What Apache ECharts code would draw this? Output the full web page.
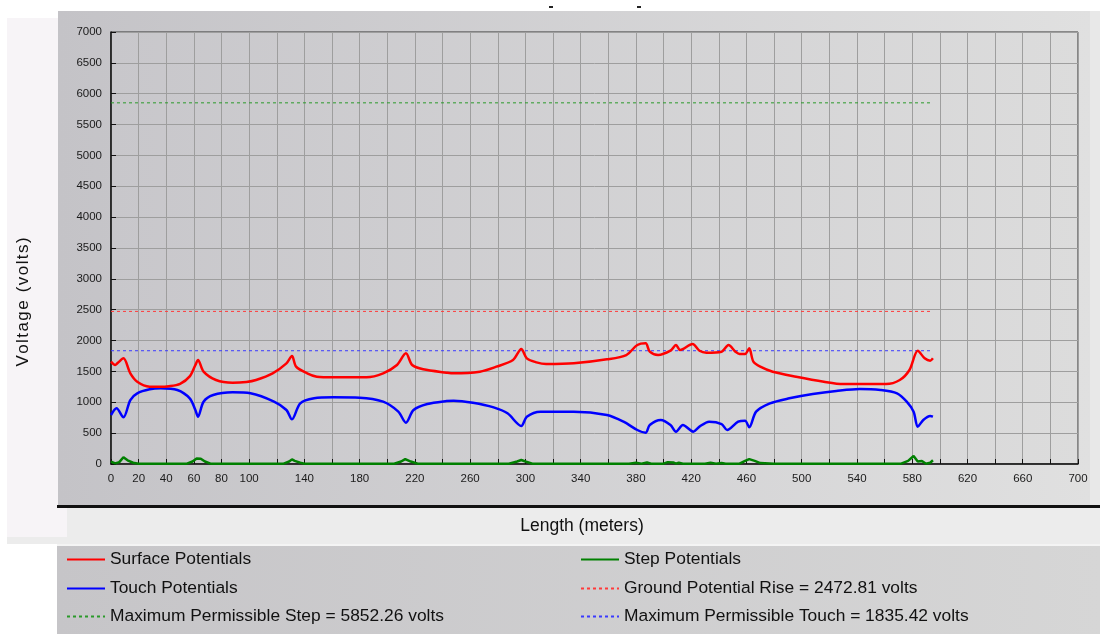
<!DOCTYPE html>
<html>
<head>
<meta charset="utf-8">
<script src="https://cdn.jsdelivr.net/npm/echarts@6/dist/echarts.min.js"></script>
<style>
html,body{margin:0;padding:0;background:#fff;}
#c{width:1100px;height:634px;}
</style>
</head>
<body>
<div id="c"></div>
<script>
// ---- data (length in meters, voltage in volts) ----
var surfaceX = [0,3,5,9,14,19,28,35,42,50,57,61,63,67,76,88,98,105,117,127,131,134,142,149,161,185,197,207,213.5,218,226,243,248,267,279,291,297,301,308,315,335,359,373,381,387,390,396,405,409,412,421,426,431,442,447,452,455,459,462,465,470,479,496,516,530,561,571,578,584,589,593,595];
var surfaceV = [1658,1604,1640,1712,1470,1334,1253,1250,1260,1300,1420,1600,1685,1496,1361,1318,1330,1361,1469,1631,1750,1577,1469,1415,1405,1405,1469,1604,1794,1604,1534,1480,1469,1496,1577,1685,1863,1712,1647,1620,1631,1696,1766,1928,1955,1820,1766,1836,1928,1847,1944,1836,1804,1820,1928,1820,1782,1782,1874,1658,1577,1496,1415,1334,1296,1296,1361,1523,1836,1712,1674,1712];

var touchX = [0,4,9,14,19,28,36,48,57,61,63,67,74,88,101,118,127,131,137,147,161,180,197,208,213.5,219,229,243,248,262,277,287,297,301,311,335,359,371,381,387,390,398,405,409,414,421.5,426,433,442,446,454,459,462,467,477,491,508,525,542,557,569,576,581,584,588,593,595];
var touchV = [794,902,757,1037,1145,1210,1226,1199,1064,880,767,1010,1118,1162,1145,1010,875,724,983,1064,1080,1075,1010,848,670,875,972,1021,1026,993,918,821,616,767,848,848,794,686,551,508,632,713,632,524,632,524,605,686,648,551,686,702,594,848,983,1064,1134,1183,1215,1199,1145,1010,848,605,713,778,767];

var stepX = [0,3,6,9,12,16,20,55,59,62,65,68,72,125,129,131,133,137,140,205,210,213,217,222,288,294,297,300,305,375,380,384,388,391,400,403,407,409,411,414,430,434,438,442,445,455,459,462,466,470,480,572,577,581,584,587,590,593,595];
var stepV = [40,10,30,110,60,20,5,5,40,90,85,40,5,5,40,75,50,20,5,5,40,80,40,5,5,40,65,40,5,5,20,5,25,5,5,30,25,5,20,5,5,20,5,15,5,5,50,80,50,15,5,5,50,130,40,50,5,20,60];

var refStart = 0, refEnd = 594;
var maxStep = 5852.26, gpr = 2472.81, maxTouch = 1835.42;

var xLabelsShown = [0,20,40,60,80,100,140,180,220,260,300,340,380,420,460,500,540,580,620,660,700];

var nameSurface = 'Surface Potentials';
var nameTouch = 'Touch Potentials';
var nameStep = 'Step Potentials';
var nameMaxStep = 'Maximum Permissible Step = 5852.26 volts';
var nameGpr = 'Ground Potential Rise = 2472.81 volts';
var nameMaxTouch = 'Maximum Permissible Touch = 1835.42 volts';

function zip(xs, ys){ return xs.map(function(x,i){ return [x, ys[i]]; }); }
function flat(v){ return [[refStart, v],[refEnd, v]]; }

var font = 'Liberation Sans, Arial, sans-serif';
var chart = echarts.init(document.getElementById('c'));

var legendText = {fontFamily: font, fontSize: 17.4, color: '#111'};
function lg(name, left, top){
  return {left:left, top:top, itemWidth:38, itemHeight:14, itemGap:0, textStyle:legendText, data:[name],
          itemStyle:{opacity:0}, selectedMode:false, padding:0};
}

chart.setOption({
  animation: false,
  backgroundColor: '#ffffff',
  textStyle: {fontFamily: font},
  graphic: [
    {type:'rect', z:-100, shape:{x:7,y:18,width:60,height:520}, style:{fill:'#f7f4f7'}},
    {type:'rect', z:-100, shape:{x:67,y:506,width:1033,height:38}, style:{fill:'#ececec'}},
    {type:'rect', z:-100, shape:{x:7,y:537,width:60,height:7}, style:{fill:'#ececec'}},
    {type:'rect', z:-99, shape:{x:58,y:11,width:1032,height:495},
      style:{fill:new echarts.graphic.LinearGradient(0,0,1,0,[{offset:0,color:'#c4c3c7'},{offset:1,color:'#e0e0e0'}])}},
    {type:'rect', z:-99, shape:{x:1090,y:11,width:10,height:495}, style:{fill:'#e8e8e8'}},
    {type:'rect', z:-98, shape:{x:111,y:32,width:967,height:432},
      style:{fill:new echarts.graphic.LinearGradient(0,0,1,0,[{offset:0,color:'#c8c7cb'},{offset:1,color:'#dcdcdc'}])}},
    {type:'rect', z:-97, shape:{x:57,y:505,width:1043,height:3}, style:{fill:'#111'}},
    {type:'rect', z:-100, shape:{x:57,y:544,width:1043,height:90},
      style:{fill:new echarts.graphic.LinearGradient(0,0,1,0,[{offset:0,color:'#c6c5c8'},{offset:1,color:'#d6d6d6'}])}},
    {type:'rect', z:-100, shape:{x:57,y:544,width:1043,height:2}, style:{fill:'#f4f4f4'}},
    {type:'rect', z:-96, shape:{x:549,y:6,width:4,height:2}, style:{fill:'#222'}},
    {type:'rect', z:-96, shape:{x:637,y:6,width:4,height:2}, style:{fill:'#222'}},
    {type:'text', z:10, x:582, y:526, style:{text:'Length (meters)', fontFamily:font, fontSize:17.5, fill:'#111', textAlign:'center', textVerticalAlign:'middle'}},
    {type:'text', z:10, rotation: Math.PI/2, x:23, y:302, style:{text:'V\u200Ao\u200Al\u200At\u200Aa\u200Ag\u200Ae\u2009 (\u200Av\u200Ao\u200Al\u200At\u200As\u200A)', fontFamily:font, fontSize:17, fill:'#111', textAlign:'center', textVerticalAlign:'middle'}}
  ],
  grid: {left:111, top:32, right:22, bottom:170, show:true, borderColor:'#333', borderWidth:1, backgroundColor:'transparent'},
  legend: [
    lg(nameSurface, 66, 551),
    lg(nameTouch, 66, 580),
    lg(nameMaxStep, 66, 608),
    lg(nameStep, 580, 551),
    lg(nameGpr, 580, 580),
    lg(nameMaxTouch, 580, 608)
  ],
  xAxis: {
    type:'value', min:0, max:700, interval:20,
    axisLine:{show:true, lineStyle:{color:'#111', width:1.5}},
    axisTick:{show:true, inside:true, length:5, lineStyle:{color:'#111'}},
    splitLine:{show:true, lineStyle:{color:'#9e9e9e', width:1}},
    axisLabel:{margin:9, fontSize:11.5, color:'#1a1a1a', fontFamily:font,
      formatter:function(v){ return xLabelsShown.indexOf(v) >= 0 ? String(v) : ''; }}
  },
  yAxis: {
    type:'value', min:0, max:7000, interval:500,
    axisLine:{show:true, lineStyle:{color:'#111', width:1.5}},
    axisTick:{show:true, inside:true, length:5, lineStyle:{color:'#111'}},
    splitLine:{show:true, lineStyle:{color:'#9e9e9e', width:1}},
    axisLabel:{margin:9, fontSize:11.5, color:'#1a1a1a', fontFamily:font,
      formatter:function(v){ return String(v); }}
  },
  series: [
    {name:nameMaxStep, type:'line', data:flat(maxStep), showSymbol:false, symbol:'none',
     lineStyle:{color:'#2a9a2a', width:1, type:[3,3]}, itemStyle:{color:'#2a9a2a'}, silent:true},
    {name:nameGpr, type:'line', data:flat(gpr), showSymbol:false, symbol:'none',
     lineStyle:{color:'#ff3a3a', width:1, type:[3,3]}, itemStyle:{color:'#ff3a3a'}, silent:true},
    {name:nameMaxTouch, type:'line', data:flat(maxTouch), showSymbol:false, symbol:'none',
     lineStyle:{color:'#3a3aff', width:1, type:[3,3]}, itemStyle:{color:'#3a3aff'}, silent:true},
    {name:nameStep, type:'line', data:zip(stepX, stepV), showSymbol:false, symbol:'none',
     lineStyle:{color:'#008000', width:2.5}, itemStyle:{color:'#008000'}},
    {name:nameTouch, type:'line', data:zip(touchX, touchV), showSymbol:false, symbol:'none', smooth:0.3,
     lineStyle:{color:'#0000ff', width:2.5}, itemStyle:{color:'#0000ff'}},
    {name:nameSurface, type:'line', data:zip(surfaceX, surfaceV), showSymbol:false, symbol:'none', smooth:0.3,
     lineStyle:{color:'#ff0000', width:2.5}, itemStyle:{color:'#ff0000'}}
  ]
});
</script>
</body>
</html>
